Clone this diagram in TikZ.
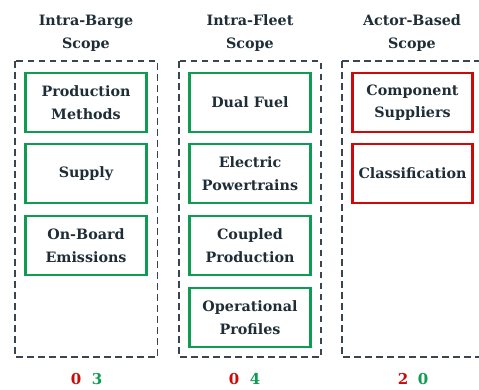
\documentclass[tikz,border=0pt]{standalone}
\usepackage{fontspec}
\setmainfont{DejaVu Serif}
\definecolor{txt}{HTML}{1F2D37}
\definecolor{gbox}{HTML}{0E9B52}
\definecolor{rbox}{HTML}{CC0A0A}
\definecolor{dash}{HTML}{3A4550}
\begin{document}
\begin{tikzpicture}[x=1pt,y=-1pt,
  scopebox/.style={draw=dash,line width=1.9pt,dash pattern=on 6.5pt off 4.5pt},
  item/.style={draw=#1,line width=2.8pt,minimum width=121pt,minimum height=59pt,inner sep=0pt,
    font=\bfseries\fontsize{14.3}{22.5}\selectfont,text=txt,align=center},
  title/.style={font=\bfseries\fontsize{14.3}{23}\selectfont,text=txt,align=center},
  count/.style={font=\bfseries\fontsize{15}{15}\selectfont}]
\useasboundingbox (0,0) rectangle (479,389);
% scope boxes
\draw[scopebox] (15,61) rectangle (157.5,357);
\draw[scopebox] (179,61) rectangle (321,357);
\draw[scopebox] (342,61) -- (342,357) -- (485,357);
\draw[scopebox] (342,61) -- (485,61);
% titles
\node[title] (t1) at (86,33) {Intra-Barge\\Scope};
\node[title] (t2) at (250,33) {Intra-Fleet\\Scope};
\node[title] (t3) at (412,33) {Actor-Based\\Scope};
% left
\node[item=gbox] (a1) at (86,102.5) {Production\\Methods};
\node[item=gbox] (a2) at (86,173.5) {Supply};
\node[item=gbox] (a3) at (86,245.5) {On-Board\\Emissions};
% middle
\node[item=gbox] (b1) at (250,102.5) {Dual Fuel};
\node[item=gbox] (b2) at (250,173.5) {Electric\\Powertrains};
\node[item=gbox] (b3) at (250,245.5) {Coupled\\Production};
\node[item=gbox] (b4) at (250,317.5) {Operational\\Profiles};
% right
\node[item=rbox,minimum width=120pt] (c1) at (412.5,102.5) {Component\\Suppliers};
\node[item=rbox,minimum width=120pt] (c2) at (412.5,173.5) {Classification};
% counts
\node[count,text=rbox] (n1r) at (76,379) {0};
\node[count,text=gbox] (n1g) at (97,379) {3};
\node[count,text=rbox] (n2r) at (234,379) {0};
\node[count,text=gbox] (n2g) at (255,379) {4};
\node[count,text=rbox] (n3r) at (403,379) {2};
\node[count,text=gbox] (n3g) at (423,379) {0};
\end{tikzpicture}
\end{document}
